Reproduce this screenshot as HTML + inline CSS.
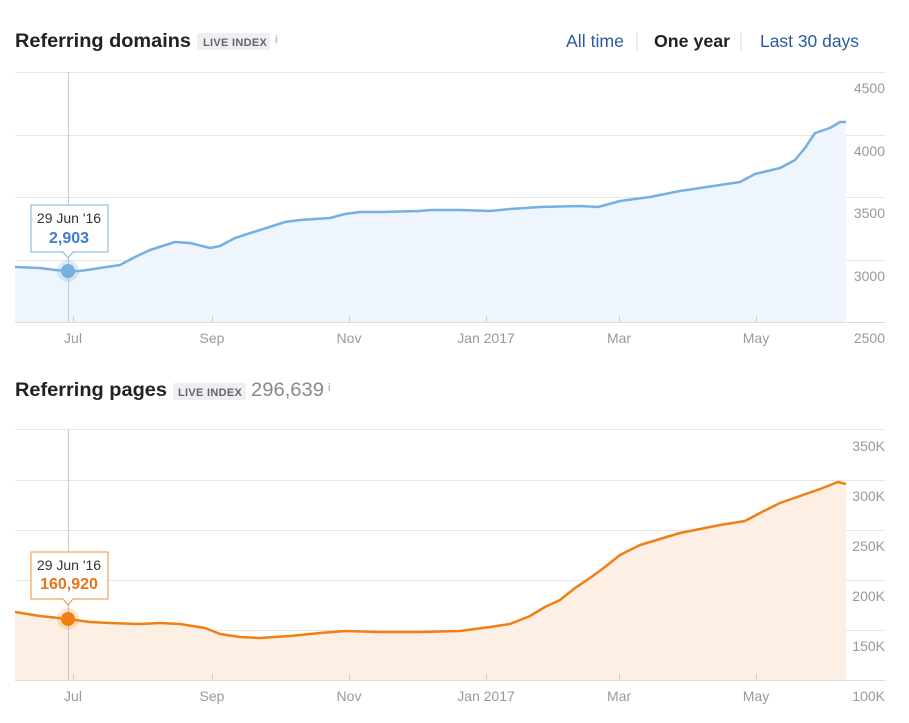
<!DOCTYPE html>
<html><head><meta charset="utf-8"><style>
html,body{margin:0;padding:0;background:#fff;}
svg{display:block;font-family:"Liberation Sans",Arial,sans-serif;}
</style></head><body>
<svg width="909" height="723" viewBox="0 0 909 723" xmlns="http://www.w3.org/2000/svg">
<text x="15" y="47" font-size="19.5" font-weight="bold" fill="#222" textLength="176" lengthAdjust="spacingAndGlyphs">Referring domains</text>
<rect x="197" y="33" width="73" height="17" rx="2" fill="#eeeff2"/>
<text x="203" y="46" font-size="11" font-weight="bold" fill="#666" letter-spacing="0.3">LIVE INDEX</text>
<text x="275" y="43" font-size="11" fill="#999">i</text>
<text x="566" y="47" font-size="17.5" fill="#2b5a9e" textLength="58" lengthAdjust="spacingAndGlyphs">All time</text>
<line x1="637" y1="32" x2="637" y2="51" stroke="#ddd"/>
<text x="654" y="47" font-size="17.5" font-weight="bold" fill="#222" textLength="76" lengthAdjust="spacingAndGlyphs">One year</text>
<line x1="741" y1="32" x2="741" y2="51" stroke="#ddd"/>
<text x="760" y="47" font-size="17.5" fill="#2b5a9e" textLength="99" lengthAdjust="spacingAndGlyphs">Last 30 days</text>

<g stroke="#e6e6e6" stroke-width="1">
<line x1="15" y1="72.5" x2="885" y2="72.5"/>
<line x1="15" y1="135.5" x2="885" y2="135.5"/>
<line x1="15" y1="197.5" x2="885" y2="197.5"/>
<line x1="15" y1="260.5" x2="885" y2="260.5"/>
</g>
<path d="M15,267 L40,268 L55,270 L68,271 L80,271 L100,268 L120,265 L135,257 L150,250 L175,242 L190,243 L210,248 L220,246 L235,238 L260,230 L285,222 L300,220 L330,218 L345,214 L360,212 L380,212 L420,211 L430,210 L460,210 L490,211 L510,209 L540,207 L580,206 L598,207 L620,201 L650,197 L680,191 L700,188 L740,182 L755,174 L780,168 L795,160 L805,148 L815,133 L830,128 L840,122 L846,122 L846,322 L15,322Z" fill="#eef5fc"/>
<path d="M15,267 L40,268 L55,270 L68,271 L80,271 L100,268 L120,265 L135,257 L150,250 L175,242 L190,243 L210,248 L220,246 L235,238 L260,230 L285,222 L300,220 L330,218 L345,214 L360,212 L380,212 L420,211 L430,210 L460,210 L490,211 L510,209 L540,207 L580,206 L598,207 L620,201 L650,197 L680,191 L700,188 L740,182 L755,174 L780,168 L795,160 L805,148 L815,133 L830,128 L840,122 L846,122" fill="none" stroke="#76b0e0" stroke-width="2.5" stroke-linejoin="round"/>
<line x1="15" y1="322.5" x2="885" y2="322.5" stroke="#ddd"/>
<g stroke="#ccc"><line x1="73.5" y1="316" x2="73.5" y2="322"/><line x1="212.5" y1="316" x2="212.5" y2="322"/><line x1="349.5" y1="316" x2="349.5" y2="322"/><line x1="486.5" y1="316" x2="486.5" y2="322"/><line x1="619.5" y1="316" x2="619.5" y2="322"/><line x1="756.5" y1="316" x2="756.5" y2="322"/></g>
<line x1="68.5" y1="72" x2="68.5" y2="322" stroke="#c8c8c8"/>
<g font-size="14" fill="#999" text-anchor="middle">
<text x="73" y="343">Jul</text><text x="212" y="343">Sep</text><text x="349" y="343">Nov</text><text x="486" y="343">Jan 2017</text><text x="619" y="343">Mar</text><text x="756" y="343">May</text>
</g>
<g font-size="14" fill="#999" text-anchor="end">
<text x="885" y="93">4500</text><text x="885" y="156">4000</text><text x="885" y="218">3500</text><text x="885" y="281">3000</text><text x="885" y="343">2500</text>
</g>
<circle cx="68" cy="271" r="11" fill="#76b0e0" opacity="0.25"/>
<circle cx="68" cy="271" r="7" fill="#76b0e0"/>
<path d="M31,205 H108 V252 H73 L68,258 L63,252 H31Z" fill="#fff" stroke="#76b0e0"/>
<text x="69" y="223" font-size="14" fill="#333" text-anchor="middle">29 Jun '16</text>
<text x="69" y="243" font-size="16" font-weight="bold" fill="#3f7ccc" text-anchor="middle">2,903</text>

<text x="15" y="396" font-size="19.5" font-weight="bold" fill="#222" textLength="152" lengthAdjust="spacingAndGlyphs">Referring pages</text>
<rect x="173" y="383" width="73" height="17" rx="2" fill="#eeeff2"/>
<text x="178" y="396" font-size="11" font-weight="bold" fill="#666" letter-spacing="0.3">LIVE INDEX</text>
<text x="251" y="396" font-size="19" fill="#888" textLength="73" lengthAdjust="spacingAndGlyphs">296,639</text>
<text x="328" y="391" font-size="11" fill="#999">i</text>

<g stroke="#e6e6e6" stroke-width="1">
<line x1="15" y1="429.5" x2="885" y2="429.5"/>
<line x1="15" y1="480.5" x2="885" y2="480.5"/>
<line x1="15" y1="530.5" x2="885" y2="530.5"/>
<line x1="15" y1="580.5" x2="885" y2="580.5"/>
<line x1="15" y1="630.5" x2="885" y2="630.5"/>
</g>
<path d="M15,612 L40,616 L68,619 L90,622 L110,623 L140,624 L160,623 L180,624 L205,628 L220,634 L240,637 L260,638 L290,636 L320,633 L345,631 L380,632 L420,632 L460,631 L490,627 L510,624 L530,616 L545,607 L560,600 L575,588 L590,578 L605,567 L620,555 L640,545 L660,539 L680,533 L700,529 L720,525 L745,521 L760,513 L780,503 L800,496 L820,489 L838,482 L846,484 L846,680 L15,680Z" fill="#fdefe4"/>
<path d="M15,612 L40,616 L68,619 L90,622 L110,623 L140,624 L160,623 L180,624 L205,628 L220,634 L240,637 L260,638 L290,636 L320,633 L345,631 L380,632 L420,632 L460,631 L490,627 L510,624 L530,616 L545,607 L560,600 L575,588 L590,578 L605,567 L620,555 L640,545 L660,539 L680,533 L700,529 L720,525 L745,521 L760,513 L780,503 L800,496 L820,489 L838,482 L846,484" fill="none" stroke="#f07f14" stroke-width="2.5" stroke-linejoin="round"/>
<line x1="15" y1="680.5" x2="885" y2="680.5" stroke="#ddd"/>
<g stroke="#ccc"><line x1="73.5" y1="674" x2="73.5" y2="680"/><line x1="212.5" y1="674" x2="212.5" y2="680"/><line x1="349.5" y1="674" x2="349.5" y2="680"/><line x1="486.5" y1="674" x2="486.5" y2="680"/><line x1="619.5" y1="674" x2="619.5" y2="680"/><line x1="756.5" y1="674" x2="756.5" y2="680"/></g>
<line x1="68.5" y1="430" x2="68.5" y2="680" stroke="#c8c8c8"/>
<g font-size="14" fill="#999" text-anchor="middle">
<text x="73" y="701">Jul</text><text x="212" y="701">Sep</text><text x="349" y="701">Nov</text><text x="486" y="701">Jan 2017</text><text x="619" y="701">Mar</text><text x="756" y="701">May</text>
</g>
<g font-size="14" fill="#999" text-anchor="end">
<text x="885" y="451">350K</text><text x="885" y="501">300K</text><text x="885" y="551">250K</text><text x="885" y="601">200K</text><text x="885" y="651">150K</text><text x="885" y="701">100K</text>
</g>
<circle cx="68" cy="619" r="11" fill="#f07f14" opacity="0.2"/>
<circle cx="68" cy="619" r="7" fill="#f07f14"/>
<path d="M31,552 H108 V599 H73 L68,605 L63,599 H31Z" fill="#fff" stroke="#f0913a"/>
<text x="69" y="570" font-size="14" fill="#333" text-anchor="middle">29 Jun '16</text>
<text x="69" y="589" font-size="16" font-weight="bold" fill="#e8731a" text-anchor="middle">160,920</text>
</svg>
</body></html>
